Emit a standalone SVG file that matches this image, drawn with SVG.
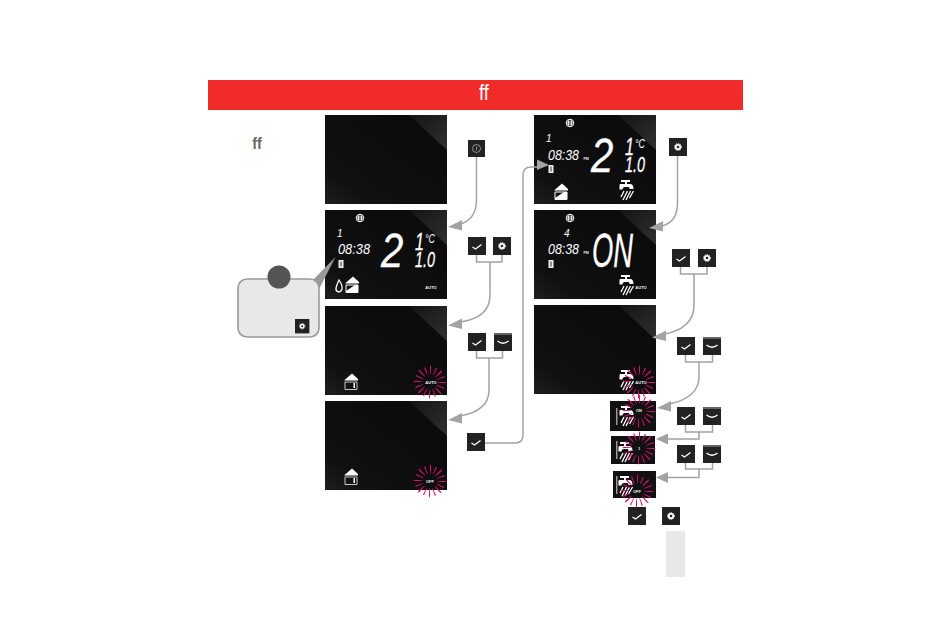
<svg xmlns="http://www.w3.org/2000/svg" xmlns:xlink="http://www.w3.org/1999/xlink" width="950" height="619" viewBox="0 0 950 619">
<style>
.conn{fill:none;stroke:#a3a3a3;stroke-width:1.5}
.head{fill:#a3a3a3}
.lcd{font-family:"Liberation Sans",sans-serif;font-weight:400;font-style:italic;fill:#fff}
.big{stroke:#fff;stroke-width:.3}
.tiny{font-family:"Liberation Sans",sans-serif;font-weight:700;fill:#eee;text-anchor:middle;font-size:4px}
.btn{fill:#222}
.ic{fill:none;stroke:#fff;stroke-width:1.3}
</style>
<defs>
<linearGradient id="scr" x1="0" y1="1" x2="1" y2="0"><stop offset="0" stop-color="#1e1e1e"/><stop offset=".2" stop-color="#101010"/><stop offset="1" stop-color="#0a0a0a"/></linearGradient>
<linearGradient id="gl" x1="0" y1="0" x2="1" y2="1"><stop offset="0" stop-color="#141414"/><stop offset="1" stop-color="#303030"/></linearGradient>
<g id="screen"><rect width="122" height="89" fill="url(#scr)"/><path d="M84 0H122V35Z" fill="url(#gl)"/></g>
<g id="check"><rect class="btn" width="18" height="18"/><path d="M4.500 10L7.500 12L13.500 7.500" class="ic"/></g>
<g id="chev"><rect class="btn" width="18" height="18"/><path d="M0 1H18" stroke="#ccc" stroke-width=".8"/><path d="M3.500 8Q9 12.500 14.500 8" class="ic"/></g>
<g id="gear"><rect class="btn" width="18" height="18"/><circle cx="9" cy="9" r="2.200" fill="none" stroke="#fff" stroke-width="1.800"/><circle cx="9" cy="9" r="3.400" fill="none" stroke="#fff" stroke-width="1" stroke-dasharray="1.300 .9"/></g>
<g id="info"><rect class="btn" width="17" height="17"/><circle cx="8.500" cy="8.500" r="4" fill="none" stroke="#bbb" stroke-width=".7"/><path d="M8.500 6.500V10.500" stroke="#bbb" stroke-width=".7"/></g>
<g id="globe" fill="none" stroke="#fff" stroke-width=".9"><circle r="3.800"/><ellipse rx="1.600" ry="3.800"/><path d="M-3.800 -1H3.800M-3.800 1H3.800"/></g>
<g id="house"><path d="M-7 -1.500L1 -8.500L7 -3V-1.500Z" fill="#fff"/><path d="M-6 0H6V7.500H-6Z" fill="none" stroke="#fff"/><path d="M-6 6L3 0H6V7.500H-6Z" fill="#fff"/></g>
<g id="house1"><path d="M-7 -1.500L1 -8.500L7 -3V-1.500Z" fill="#fff"/><path d="M-6 0H6V7.500H-6Z" fill="none" stroke="#ddd" stroke-width=".9"/><rect x="2.500" y="1" width="1.500" height="5" fill="#fff"/></g>
<g id="tap"><path d="M-6 -6H-1V-8H-5V-10H4V-8H1V-6H4Q7.500 -6 7.500 -1H3.500Q3.500 -3 2.500 -3H-1Q-3.500 -3 -3.500 -.5H-6.500V-5Z" fill="#fff"/><path d="M-2 1L-5 7M1.500 1L-3 10M4.500 1L0 10M7.500 1L3.500 8" stroke="#fff" stroke-width="1.300" fill="none"/></g>
<g id="batt"><rect x="-2.500" y="-4" width="5" height="8" fill="#eee"/><path d="M0 -2.500V2.500" stroke="#333"/></g>
<g id="burst" fill="none" stroke="#d6126f"><circle r="11.500" stroke-width="8" pathLength="16" stroke-dasharray=".2 .8"/><circle r="13" stroke-width="7" pathLength="16" stroke-dasharray=".12 1.880"/></g>
<g id="ahead"><path class="head" d="M0 0L14 -7L14 3.500Z"/></g>
<g id="big21"><text class="lcd big" transform="translate(381 267) scale(.82 1)" font-size="49">2</text><text class="lcd big" x="415" y="250" font-size="23" textLength="9" lengthAdjust="spacingAndGlyphs">1</text><text class="lcd" x="425" y="243" font-size="12" textLength="10" lengthAdjust="spacingAndGlyphs">°C</text><text class="lcd big" x="415" y="267" font-size="22" textLength="20" lengthAdjust="spacingAndGlyphs">1.0</text></g>
</defs>

<rect x="208" y="80" width="535" height="30" fill="#f12a2a"/>
<text transform="translate(484 100) scale(.85 1)" text-anchor="middle" font-family="'Liberation Sans',sans-serif" font-size="22" fill="#fff">ff</text>
<text transform="translate(257 149) scale(.85 1)" text-anchor="middle" font-family="'Liberation Sans',sans-serif" font-size="17" font-weight="700" fill="#666">ff</text>

<g id="screen-1"><use xlink:href="#screen" x="325" y="115"/></g>

<g id="screen-2"><use xlink:href="#screen" x="325" y="210"/>
<use xlink:href="#globe" x="360" y="218"/>
<text class="lcd" x="337" y="237" font-size="10">1</text>
<text class="lcd" x="338" y="254" font-size="15" textLength="32" lengthAdjust="spacingAndGlyphs">08:38</text>
<use xlink:href="#batt" x="341" y="264"/>
<path d="M339 280Q343 286 342 289Q341 292 338.500 292Q335.500 291 336 288Q337 284 339 280Z" class="ic"/>
<use xlink:href="#house" x="352" y="285"/>
<use xlink:href="#big21"/>
<text class="tiny" x="431" y="289">AUTO</text></g>

<g id="screen-3"><use xlink:href="#screen" x="325" y="306"/>
<use xlink:href="#house1" x="351" y="382"/>
<use xlink:href="#burst" x="430" y="382"/>
<text class="tiny" x="431" y="384">AUTO</text></g>

<g id="screen-4"><use xlink:href="#screen" x="325" y="401"/>
<use xlink:href="#house1" x="351" y="477"/>
<use xlink:href="#burst" x="430" y="481"/>
<text class="tiny" x="430" y="483">OFF</text></g>

<g id="screen-5"><use xlink:href="#screen" x="534" y="115"/>
<use xlink:href="#globe" x="570" y="123"/>
<text class="lcd" x="546" y="142" font-size="10">1</text>
<text class="lcd" x="548" y="160" font-size="15" textLength="31" lengthAdjust="spacingAndGlyphs">08:38</text>
<text class="tiny" x="586" y="160" style="font-size:3.500px">PM</text>
<use xlink:href="#batt" x="551" y="169"/>
<use xlink:href="#house" x="561" y="192"/>
<use xlink:href="#big21" x="210" y="-95"/>
<use xlink:href="#tap" x="626" y="190"/></g>

<g id="screen-6"><use xlink:href="#screen" x="534" y="210"/>
<use xlink:href="#globe" x="570" y="218"/>
<text class="lcd" x="564" y="237" font-size="10">4</text>
<text class="lcd" x="548" y="254" font-size="15" textLength="31" lengthAdjust="spacingAndGlyphs">08:38</text>
<text class="tiny" x="586" y="254" style="font-size:3.500px">PM</text>
<use xlink:href="#batt" x="551" y="264"/>
<text class="lcd big" x="592" y="267" font-size="48" textLength="41" lengthAdjust="spacingAndGlyphs">ON</text>
<use xlink:href="#tap" x="626" y="285"/>
<text class="tiny" x="641" y="289">AUTO</text></g>

<g id="screen-7"><use xlink:href="#screen" x="534" y="305"/>
<use xlink:href="#tap" x="626" y="380"/>
<use xlink:href="#burst" x="639" y="382"/>
<text class="tiny" x="641" y="384">AUTO</text></g>

<g id="screen-8"><rect x="610" y="401" width="46" height="30" fill="#111"/>
<rect x="616" y="408" width="1.500" height="17" fill="#999"/>
<use xlink:href="#tap" x="626" y="416"/>
<use xlink:href="#burst" x="639" y="411"/>
<text class="tiny" x="639" y="412">ON</text></g>

<g id="screen-9"><rect x="611" y="436" width="44" height="28" fill="#111"/>
<rect x="616" y="441" width="1.500" height="18" fill="#999"/>
<use xlink:href="#tap" x="625" y="452"/>
<use xlink:href="#burst" x="639" y="448"/>
<text class="tiny" x="639" y="450">1</text></g>

<g id="screen-10"><rect x="613" y="471" width="43" height="27" fill="#111"/>
<rect x="616" y="476" width="1.500" height="18" fill="#999"/>
<use xlink:href="#tap" x="625" y="486"/>
<use xlink:href="#burst" x="637" y="491"/>
<text class="tiny" x="637" y="493">OFF</text></g>

<g id="note">
<path d="M313 280L335.500 257L319 289Z" fill="#999"/>
<rect x="238" y="279" width="81" height="58" rx="9" fill="#e8e8e8" stroke="#999" stroke-width="1.600"/>
<circle cx="279" cy="277" r="11.500" fill="#555"/>
<use xlink:href="#gear" transform="translate(295 319) scale(.8)"/>
</g>

<g id="btn-info"><use xlink:href="#info" x="468" y="140"/></g>
<g id="btn-a1"><use xlink:href="#check" x="468" y="237"/></g>
<g id="btn-a2"><use xlink:href="#gear" x="493" y="237"/></g>
<g id="btn-b1"><use xlink:href="#check" x="468" y="333"/></g>
<g id="btn-b2"><use xlink:href="#chev" x="494" y="333"/></g>
<g id="btn-c1"><use xlink:href="#check" x="467" y="433"/></g>
<g id="btn-d"><use xlink:href="#gear" x="669" y="138"/></g>
<g id="btn-e1"><use xlink:href="#check" x="672" y="249"/></g>
<g id="btn-e2"><use xlink:href="#gear" x="698" y="249"/></g>
<g id="btn-f1"><use xlink:href="#check" x="677" y="337"/></g>
<g id="btn-f2"><use xlink:href="#chev" x="703" y="337"/></g>
<g id="btn-g1"><use xlink:href="#check" x="677" y="407"/></g>
<g id="btn-g2"><use xlink:href="#chev" x="703" y="407"/></g>
<g id="btn-h1"><use xlink:href="#check" x="677" y="445"/></g>
<g id="btn-h2"><use xlink:href="#chev" x="703" y="445"/></g>
<g id="btn-i1"><use xlink:href="#check" x="628" y="507"/></g>
<g id="btn-i2"><use xlink:href="#gear" x="662" y="507"/></g>
<rect id="swatch" x="666" y="531" width="19" height="46" fill="#e8e8e8"/>

<g id="connectors">
<path class="conn" d="M476.500 157V200Q476.500 220 458 225"/>
<use xlink:href="#ahead" x="448" y="227"/>
<path class="conn" d="M476.500 255V262H502V255M490 262V295Q490 318 460 322"/>
<use xlink:href="#ahead" x="448" y="325.500"/>
<path class="conn" d="M476.500 351V358H502.500V351M489 358V390Q489 411 460 416"/>
<use xlink:href="#ahead" x="448" y="420"/>
<path class="conn" d="M485 443H515Q523 443 523 435V175Q523 167 531 167H538"/>
<path class="head" d="M549 165L537 159.500L537 170Z"/>
<path class="conn" d="M677.500 156V203Q677.500 222 662 226"/>
<use xlink:href="#ahead" x="649" y="228"/>
<path class="conn" d="M680.500 267V274H707V267M694 274V305Q694 328 665 334"/>
<use xlink:href="#ahead" x="652" y="337.500"/>
<path class="conn" d="M685.500 355V362H712.500V355M699 362V378Q698 398 669 404"/>
<use xlink:href="#ahead" x="657" y="408"/>
<path class="conn" d="M685.500 425V432H712.500V425M699 432V439H668"/>
<path class="head" d="M656 439L668 433.500V444.500Z"/>
<path class="conn" d="M685.500 463V469H712.500V463M699 469V477.500H668"/>
<path class="head" d="M656 477.500L668 472V483Z"/>
</g>
</svg>
